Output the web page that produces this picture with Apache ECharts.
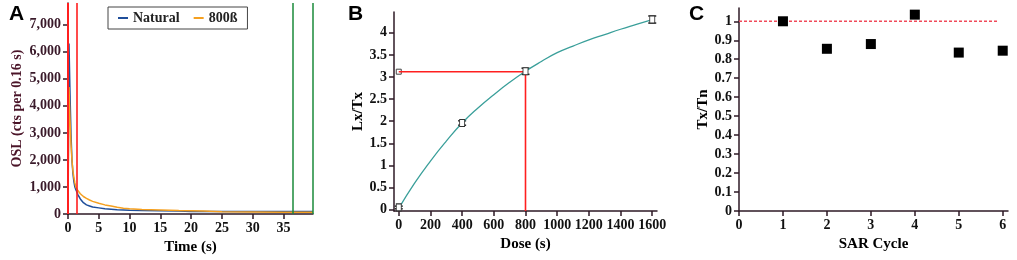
<!DOCTYPE html>
<html>
<head>
<meta charset="utf-8">
<script src="https://cdn.jsdelivr.net/npm/echarts@6/dist/echarts.min.js"></script>
<style>
  html, body { margin: 0; padding: 0; background: #fff; }
  #chart { width: 1017px; height: 260px; }
</style>
</head>
<body>
<div id="chart"></div>
<script>
// Panel A - OSL decay curves
const timeNatural = [0, 0.16, 0.32, 0.48, 0.64, 0.8, 0.96, 1.12, 1.28, 1.44, 1.6, 2, 2.5, 3, 3.5, 4, 5, 6, 7, 8, 9, 10, 12, 15, 18, 20, 22, 25, 30, 35, 39.8];
const natural = [0, 6300, 4500, 3000, 2000, 1500, 1200, 1000, 900, 820, 720, 560, 420, 340, 300, 260, 230, 200, 180, 160, 150, 140, 130, 120, 110, 100, 100, 95, 95, 100, 100];
const beta800 = [0, 4700, 3500, 2600, 2000, 1600, 1350, 1150, 1000, 920, 850, 750, 650, 580, 520, 470, 400, 340, 300, 250, 220, 200, 170, 150, 130, 120, 110, 90, 80, 70, 70];
const redLinesA = [0, 1.5];
const greenLinesA = [36.5, 39.7];
const ticksAx = [0, 5, 10, 15, 20, 25, 30, 35];
const ticksAy = [0, 1000, 2000, 3000, 4000, 5000, 6000, 7000];

// Panel B - dose response
const doses = [0, 400, 800, 1600];
const lxtx = [0.05, 1.96, 3.13, 4.3];
const lxtxErr = [0.03, 0.05, 0.07, 0.08];
const curveDose = [0, 100, 200, 300, 400, 500, 600, 700, 800, 900, 1000, 1100, 1200, 1300, 1400, 1500, 1600];
const curveFit = [0.03, 0.6, 1.1, 1.55, 1.96, 2.3, 2.6, 2.88, 3.13, 3.35, 3.55, 3.7, 3.84, 3.96, 4.08, 4.19, 4.3];
const naturalLxTx = 3.12;
const equivDose = 800;
const ticksBx = [0, 200, 400, 600, 800, 1000, 1200, 1400, 1600];
const ticksBy = [0, 0.5, 1, 1.5, 2, 2.5, 3, 3.5, 4];

// Panel C - recycling
const sarCycle = [1, 2, 3, 4, 5, 6];
const txtn = [1.0, 0.855, 0.88, 1.035, 0.835, 0.845];
const refLineC = [0, 5.9];
const ticksCx = [0, 1, 2, 3, 4, 5, 6];
const ticksCy = [0, 0.1, 0.2, 0.3, 0.4, 0.5, 0.6, 0.7, 0.8, 0.9, 1];

const serif = "Liberation Serif";
const axisDark = "#2e1a26";
const red = "#ff1f1f";

function valueAxis(grid, min, max, ticks, name, nameGap, extra) {
  return Object.assign({
    type: "value",
    gridIndex: grid,
    min: min,
    max: max,
    name: name,
    nameLocation: "middle",
    nameGap: nameGap,
    nameTextStyle: { fontFamily: serif, fontWeight: "bold", fontSize: 15, color: "#000" },
    splitLine: { show: false },
    axisLine: { show: true, onZero: false, lineStyle: { color: axisDark, width: 1.5 } },
    axisTick: { show: true, length: 5, customValues: ticks, lineStyle: { color: axisDark, width: 1.5 } },
    axisLabel: {
      customValues: ticks, margin: 7, fontFamily: serif, fontWeight: "bold", fontSize: 14, color: "#111",
      formatter: (v) => String(v),
    },
  }, extra || {});
}

const chartDom = document.getElementById("chart");
const myChart = echarts.init(chartDom);

function errorBar(params, api) {
  const x = api.value(0);
  const lo = api.coord([x, api.value(1)]);
  const hi = api.coord([x, api.value(2)]);
  const cap = 4;
  return {
    type: "group",
    children: [
      { type: "line", shape: { x1: hi[0], y1: hi[1], x2: lo[0], y2: lo[1] }, style: { stroke: "#222", lineWidth: 1 } },
      { type: "line", shape: { x1: hi[0] - cap, y1: hi[1], x2: hi[0] + cap, y2: hi[1] }, style: { stroke: "#222", lineWidth: 1.5 } },
      { type: "line", shape: { x1: lo[0] - cap, y1: lo[1], x2: lo[0] + cap, y2: lo[1] }, style: { stroke: "#222", lineWidth: 1.5 } },
    ],
  };
}

const option = {
  animation: false,
  title: [
    { text: "A", left: 4, top: -1, textStyle: { fontFamily: "Liberation Sans", fontWeight: "bold", fontSize: 21, color: "#000" } },
    { text: "B", left: 343, top: -1, textStyle: { fontFamily: "Liberation Sans", fontWeight: "bold", fontSize: 21, color: "#000" } },
    { text: "C", left: 684, top: -1, textStyle: { fontFamily: "Liberation Sans", fontWeight: "bold", fontSize: 21, color: "#000" } },
  ],
  legend: {
    left: 108,
    top: 7,
    data: ["Natural", "800ß"],
    icon: "rect",
    itemWidth: 10,
    itemHeight: 2,
    itemGap: 14,
    padding: [4, 10],
    borderColor: "#444",
    borderWidth: 1,
    textStyle: { fontFamily: serif, fontWeight: "bold", fontSize: 14, color: "#222" },
  },
  grid: [
    { left: 68, right: 704, top: 3, bottom: 43 },
    { left: 394, right: 360, top: 12, bottom: 49 },
    { left: 739, right: 9, top: 8, bottom: 49 },
  ],
  xAxis: [
    valueAxis(0, 0, 39.8, ticksAx, "Time (s)", 21),
    valueAxis(1, -30, 1630, ticksBx, "Dose (s)", 21),
    valueAxis(2, 0, 6.12, ticksCx, "SAR Cycle", 21),
  ],
  yAxis: [
    valueAxis(0, 0, 7800, ticksAy, "OSL (cts per 0.16 s)", 44, {
      nameTextStyle: { fontFamily: serif, fontWeight: "bold", fontSize: 14, color: "#4a1428" },
      axisLabel: {
        customValues: ticksAy, margin: 7, fontFamily: serif, fontWeight: "bold", fontSize: 14, color: "#3a1a2a",
        formatter: (v) => v.toLocaleString("en-US"),
      },
    }),
    valueAxis(1, -0.03, 4.47, ticksBy, "Lx/Tx", 25),
    valueAxis(2, 0, 1.07, ticksCy, "Tx/Tn", 28),
  ],
  series: [
    {
      name: "Natural",
      type: "line",
      xAxisIndex: 0,
      yAxisIndex: 0,
      data: timeNatural.map((t, i) => [t, natural[i]]),
      showSymbol: false,
      lineStyle: { color: "#1f4e9a", width: 1.5 },
      itemStyle: { color: "#1f4e9a" },
      markLine: {
        silent: true,
        symbol: "none",
        label: { show: false },
        data: redLinesA.map((x, i) => ({ xAxis: x, lineStyle: { color: red, type: "solid", width: i === 0 ? 2 : 1.6, opacity: 1 } }))
          .concat(greenLinesA.map((x) => ({ xAxis: x, lineStyle: { color: "#1a8a3a", type: "solid", width: 1.5, opacity: 1 } }))),
      },
    },
    {
      name: "800ß",
      type: "line",
      xAxisIndex: 0,
      yAxisIndex: 0,
      data: timeNatural.map((t, i) => [t, beta800[i]]),
      showSymbol: false,
      lineStyle: { color: "#f5a020", width: 1.5 },
      itemStyle: { color: "#f5a020" },
    },
    {
      type: "line",
      xAxisIndex: 1,
      yAxisIndex: 1,
      data: curveDose.map((d, i) => [d, curveFit[i]]),
      showSymbol: false,
      smooth: true,
      lineStyle: { color: "#3a9f9a", width: 1.3 },
    },
    {
      type: "line",
      xAxisIndex: 1,
      yAxisIndex: 1,
      data: [[0, naturalLxTx], [equivDose, naturalLxTx], [equivDose, -0.03]],
      showSymbol: false,
      lineStyle: { color: red, width: 1.6, opacity: 1 },
      itemStyle: { color: red },
    },
    {
      type: "scatter",
      xAxisIndex: 1,
      yAxisIndex: 1,
      data: [[0, naturalLxTx]],
      symbol: "rect",
      symbolSize: 5,
      itemStyle: { color: "#fff", borderColor: "#444", borderWidth: 1, opacity: 1 },
    },
    {
      type: "custom",
      xAxisIndex: 1,
      yAxisIndex: 1,
      renderItem: errorBar,
      data: doses.map((d, i) => [d, lxtx[i] - lxtxErr[i], lxtx[i] + lxtxErr[i]]),
      z: 3,
    },
    {
      type: "scatter",
      xAxisIndex: 1,
      yAxisIndex: 1,
      data: doses.map((d, i) => [d, lxtx[i]]),
      symbol: "rect",
      symbolSize: [5, 7],
      itemStyle: { color: "#fff", borderColor: "#333", borderWidth: 1, opacity: 1 },
      z: 4,
    },
    {
      type: "line",
      xAxisIndex: 2,
      yAxisIndex: 2,
      data: refLineC.map((x) => [x, 1]),
      showSymbol: false,
      lineStyle: { color: "#f04a5a", width: 1.5, type: [3, 2], opacity: 1 },
    },
    {
      type: "scatter",
      xAxisIndex: 2,
      yAxisIndex: 2,
      data: sarCycle.map((c, i) => [c, txtn[i]]),
      symbol: "rect",
      symbolSize: 10,
      itemStyle: { color: "#000", opacity: 1 },
      z: 4,
    },
  ],
};

myChart.setOption(option);

window.addEventListener("resize", function () {
  myChart.resize();
});
</script>
</body>
</html>
